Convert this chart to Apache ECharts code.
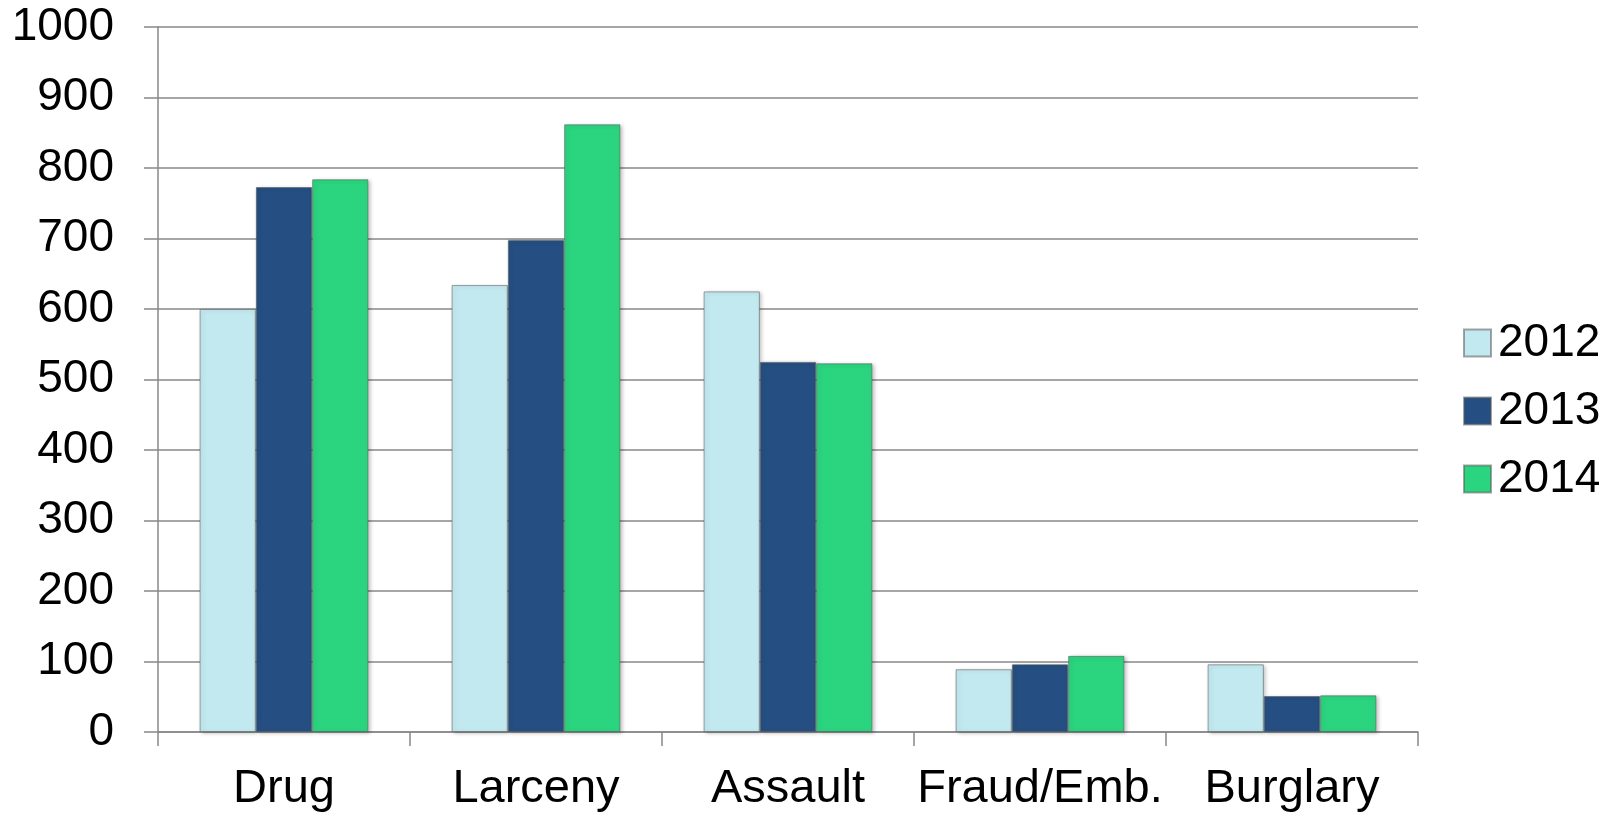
<!DOCTYPE html>
<html>
<head>
<meta charset="utf-8">
<style>html,body{margin:0;padding:0;background:#fff}#c{width:1619px;height:815px}</style>
<script src="https://cdn.jsdelivr.net/npm/echarts@6/dist/echarts.min.js"></script>
</head>
<body>
<div id="c"></div>
<script>
var categories = ['Drug', 'Larceny', 'Assault', 'Fraud/Emb.', 'Burglary'];
var seriesNames = ['2012', '2013', '2014'];
var values2012 = [600, 634, 625, 89, 96];
var values2013 = [773, 698, 525, 96, 51];
var values2014 = [784, 862, 523, 108, 52];
var yTicks = [0, 100, 200, 300, 400, 500, 600, 700, 800, 900, 1000];

var colors = ['#C2E8F0', '#254F82', '#2BD47F'];
var FONT = 'Liberation Sans, Arial, sans-serif';
var chart = echarts.init(document.getElementById('c'), null, {renderer: 'canvas'});
var dataSets = [values2012, values2013, values2014];
var series = seriesNames.map(function (n, i) {
  return {
    name: n,
    type: 'bar',
    data: dataSets[i],
    barGap: '0%',
    barCategoryGap: '33%',
    itemStyle: {
      color: colors[i],
      borderColor: 'rgba(90,90,90,0.55)',
      borderWidth: 1,
      shadowColor: 'rgba(0,0,0,0.25)',
      shadowBlur: 4,
      shadowOffsetX: 2,
      shadowOffsetY: 1
    }
  };
});
chart.setOption({
  animation: false,
  color: colors,
  textStyle: {fontFamily: FONT},
  grid: {left: 158, right: 201, top: 27, bottom: 83, containLabel: false},
  legend: {
    orient: 'vertical',
    left: 1458,
    top: 315,
    itemWidth: 27,
    itemHeight: 27,
    itemGap: 22,
    icon: 'rect',
    textStyle: {fontSize: 46, color: '#000', fontFamily: FONT, padding: [0, 0, 0, 2]},
    data: seriesNames
  },
  xAxis: {
    type: 'category',
    data: categories,
    axisLine: {lineStyle: {color: '#888', width: 1.5}},
    axisTick: {show: true, interval: 0, length: 14, lineStyle: {color: '#888', width: 1.5}},
    axisLabel: {interval: 0, fontSize: 47, color: '#000', margin: 34, fontFamily: FONT}
  },
  yAxis: {
    type: 'value',
    min: 0,
    max: 1000,
    interval: 100,
    axisLine: {show: true, lineStyle: {color: '#888', width: 1.5}},
    axisTick: {show: true, length: 14, lineStyle: {color: '#888', width: 1.5}},
    axisLabel: {fontSize: 46, color: '#000', margin: 44, fontFamily: FONT,
      formatter: function (v) { return yTicks.indexOf(v) >= 0 ? String(v) : ''; }},
    splitLine: {lineStyle: {color: '#888', width: 1.5}}
  },
  series: series
});
</script>
</body>
</html>
